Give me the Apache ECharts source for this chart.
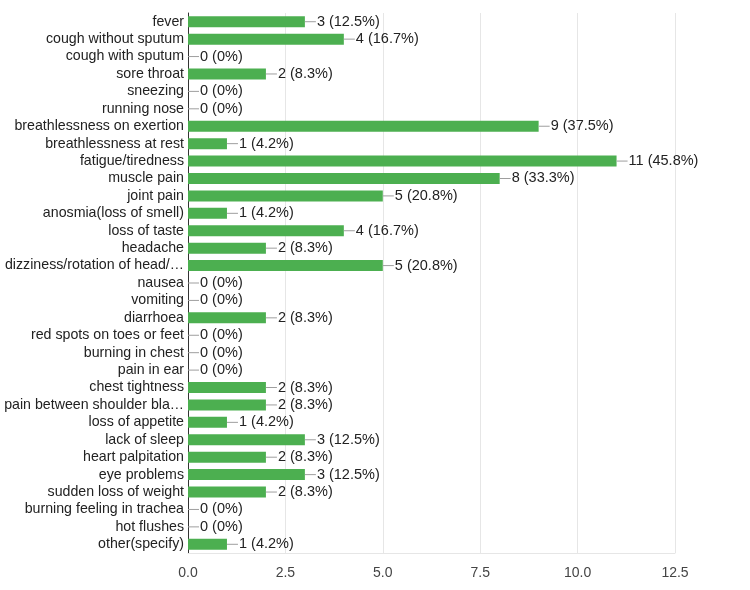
<!DOCTYPE html>
<html><head><meta charset="utf-8">
<script src="https://cdn.jsdelivr.net/npm/echarts@6/dist/echarts.min.js"></script>
<style>html,body{margin:0;padding:0;background:#fff}#c{width:750px;height:590px}</style>
</head><body><div id="c"></div>
<script>
const categories = ["fever","cough without sputum","cough with sputum","sore throat","sneezing","running nose","breathlessness on exertion","breathlessness at rest","fatigue/tiredness","muscle pain","joint pain","anosmia(loss of smell)","loss of taste","headache","dizziness/rotation of head/…","nausea","vomiting","diarrhoea","red spots on toes or feet","burning in chest","pain in ear","chest tightness","pain between shoulder bla…","loss of appetite","lack of sleep","heart palpitation","eye problems","sudden loss of weight","burning feeling in trachea","hot flushes","other(specify)"];
const values = [3,4,0,2,0,0,9,1,11,8,5,1,4,2,5,0,0,2,0,0,0,2,2,1,3,2,3,2,0,0,1];
const percents = ["12.5%","16.7%","0%","8.3%","0%","0%","37.5%","4.2%","45.8%","33.3%","20.8%","4.2%","16.7%","8.3%","20.8%","0%","0%","8.3%","0%","0%","0%","8.3%","8.3%","4.2%","12.5%","8.3%","12.5%","8.3%","0%","0%","4.2%"];
const xTicks = [0, 2.5, 5, 7.5, 10, 12.5];

const chart = echarts.init(document.getElementById('c'));
const font = '"Liberation Sans", Arial, sans-serif';
chart.setOption({
  animation: false,
  grid: {left: 188, right: 75, top: 13, bottom: 37, containLabel: false, outerBoundsMode: 'none'},
  xAxis: {
    type: 'value', min: xTicks[0], max: xTicks[xTicks.length-1], interval: 2.5,
    axisLine: {show: true, lineStyle: {color: '#e6e6e6'}},
    axisTick: {show: false},
    splitLine: {show: true, lineStyle: {color: '#e6e6e6', width: 1}},
    axisLabel: {color: '#444', fontSize: 14, fontFamily: font, margin: 13,
      formatter: v => v.toFixed(1)}
  },
  yAxis: {
    type: 'category', data: categories, inverse: true,
    axisLine: {show: true, lineStyle: {color: '#333', width: 1}},
    axisTick: {show: false},
    axisLabel: {color: '#222', fontSize: 14.2, fontFamily: font, margin: 4, interval: 0}
  },
  series: [{
    type: 'bar', data: values, barWidth: 11,
    itemStyle: {color: '#4caf50'},
    label: {
      show: true, position: 'right', distance: 0,
      formatter: p => '{l|}{t|' + p.value + ' (' + percents[p.dataIndex] + ')}',
      rich: {
        l: {width: 11, height: 1, backgroundColor: '#9e9e9e', verticalAlign: 'middle'},
        t: {color: '#222', fontSize: 14.5, fontFamily: font, padding: [0,0,0,1], verticalAlign: 'middle'}
      }
    }
  }]
});
</script></body></html>
